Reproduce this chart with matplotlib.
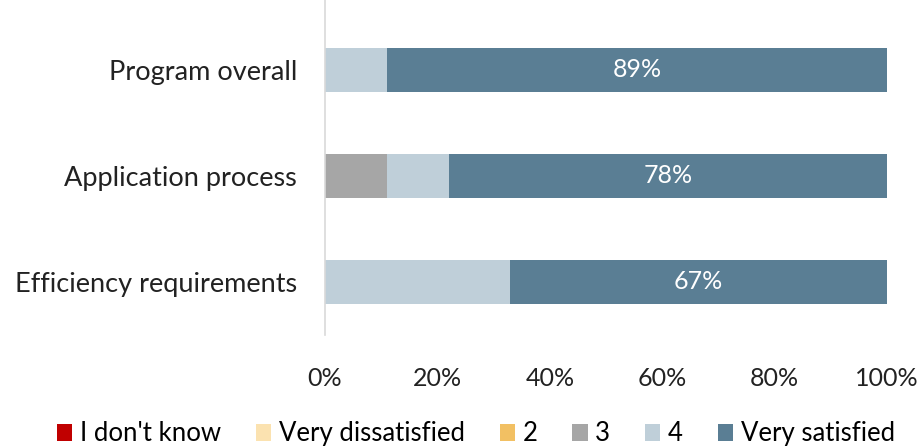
import matplotlib
matplotlib.use("Agg")
import matplotlib.pyplot as plt
from matplotlib.ticker import FuncFormatter

plt.rcParams['font.family'] = ['Lato', 'DejaVu Sans']

categories = ["Efficiency requirements", "Application process", "Program overall"]
series_names = ["I don't know", "Very dissatisfied", "2", "3", "4", "Very satisfied"]
series_values = {
    "I don't know":      [0, 0, 0],
    "Very dissatisfied": [0, 0, 0],
    "2":                 [0, 0, 0],
    "3":                 [0, 11, 0],
    "4":                 [33, 11, 11],
    "Very satisfied":    [67, 78, 89],
}
colors = {
    "I don't know": "#C00000",
    "Very dissatisfied": "#FBE2B0",
    "2": "#F2C063",
    "3": "#A6A6A6",
    "4": "#BFCFD9",
    "Very satisfied": "#5A7E94",
}
xticks = [0, 20, 40, 60, 80, 100]

fig = plt.figure(figsize=(9.24, 4.46), dpi=100)
ax = fig.add_axes([0.3517, 0.249, 0.6083, 0.751])

y = list(range(len(categories)))
left = [0.0] * len(categories)
for name in series_names:
    vals = series_values[name]
    ax.barh(y, vals, left=left, height=0.42, color=colors[name], label=name, linewidth=0)
    if name == "Very satisfied":
        for yi, l, v in zip(y, left, vals):
            ax.text(l + v / 2, yi, f"{v}%", ha="center", va="center",
                    color="white", fontsize=18)
    left = [a + b for a, b in zip(left, vals)]

ax.set_xlim(0, 100)
ax.set_ylim(-0.5, 2.66)
ax.set_yticks(y)
ax.set_yticklabels(categories, fontsize=19.5, color="#222222")
ax.set_xticks(xticks)
ax.xaxis.set_major_formatter(FuncFormatter(lambda v, p: f"{int(v)}%"))
ax.tick_params(axis="x", length=0, pad=23, labelsize=18, labelcolor="#222222")
ax.tick_params(axis="y", length=0, pad=20)
for s in ["top", "right", "bottom"]:
    ax.spines[s].set_visible(False)
ax.spines["left"].set_color("#D9D9D9")
ax.spines["left"].set_linewidth(1.2)

handles, labels = ax.get_legend_handles_labels()
fig.legend(handles, labels, loc="center", bbox_to_anchor=(0.515, 0.027),
           ncol=6, frameon=False, fontsize=18.5, handlelength=0.6, handleheight=0.6,
           handletextpad=0.3, columnspacing=1.35)

fig.savefig("out.png", dpi=100, facecolor="white")
